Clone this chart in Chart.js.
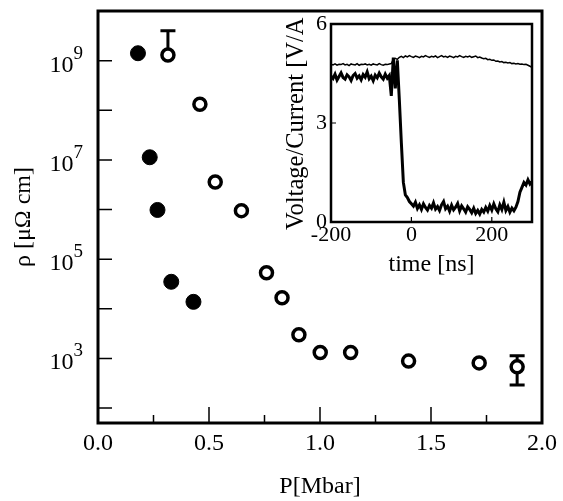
<!DOCTYPE html>
<html>
<head>
<meta charset="utf-8">
<script src="https://cdn.jsdelivr.net/npm/chart.js@4.4.0/dist/chart.umd.min.js"></script>
<style>
    html, body { margin: 0; padding: 0; background: #fff; }
    #wrap { position: relative; width: 563px; height: 501px; }
    #main { position: absolute; left: 0; top: 0; }
    #inset { position: absolute; left: 270px; top: 0; }
</style>
</head>
<body>
<div id="wrap">
    <canvas id="main" width="563" height="501"></canvas>
    <canvas id="inset" width="293" height="300"></canvas>
</div>
<script>
// Main plot: resistivity vs pressure
const solidP = [0.18, 0.233, 0.268, 0.33, 0.43];
const solidRho = [1.41e9, 1.13e7, 9.8e5, 3.5e4, 1.38e4];
const openP = [0.315, 0.459, 0.528, 0.646, 0.759, 0.829, 0.905, 1.001, 1.138, 1.399, 1.717, 1.888];
const openRho = [1.3e9, 1.32e8, 3.6e6, 9.5e5, 5.3e4, 1.67e4, 3.0e3, 1.32e3, 1.32e3, 883, 813, 676];
// error bars on the open points (index into openP/openRho)
const errIndex = [0, 11];
const errHigh = [4.0e9, 1130];
const errLow = [null, 290];

const xTicks = [0, 0.5, 1.0, 1.5, 2.0];
const xMinorTicks = [0.25, 0.75, 1.25, 1.75];
const yTickPowers = [2, 3, 4, 5, 6, 7, 8, 9];
const yLabelPowers = [3, 5, 7, 9];

// Inset: voltage / current traces
const insetTime = [
    -200, -195, -190, -185, -180, -175, -170, -165, -160, -155,
    -150, -145, -140, -135, -130, -125, -120, -115, -110, -105,
    -100, -95, -90, -85, -80, -75, -70, -65, -60, -55,
    -50, -45, -40, -35, -30, -25, -20, -15, -10, -5,
    0, 5, 10, 15, 20, 25, 30, 35, 40, 45,
    50, 55, 60, 65, 70, 75, 80, 85, 90, 95,
    100, 105, 110, 115, 120, 125, 130, 135, 140, 145,
    150, 155, 160, 165, 170, 175, 180, 185, 190, 195,
    200, 205, 210, 215, 220, 225, 230, 235, 240, 245,
    250, 255, 260, 265, 270, 275, 280, 285, 290, 295,
    300
];
const insetThick = [
    4.42, 4.35, 4.48, 4.30, 4.41, 4.52, 4.38, 4.33, 4.46, 4.40,
    4.29, 4.44, 4.50, 4.36, 4.43, 4.31, 4.47, 4.39, 4.55, 4.34,
    4.42, 4.28, 4.45, 4.37, 4.51, 4.40, 4.33, 4.48, 4.36, 4.44,
    3.82, 4.98, 4.05, 4.90, 3.70, 2.40, 1.20, 0.82, 0.74, 0.62,
    0.55, 0.48, 0.60, 0.41, 0.52, 0.38, 0.55, 0.44, 0.36, 0.50,
    0.42, 0.58, 0.39, 0.47, 0.35, 0.52, 0.62, 0.40, 0.48, 0.33,
    0.51, 0.37, 0.45, 0.56, 0.34, 0.49, 0.40, 0.30, 0.46, 0.38,
    0.28, 0.42, 0.26, 0.35, 0.24, 0.38, 0.30, 0.44, 0.33, 0.50,
    0.36, 0.55, 0.40, 0.31, 0.52, 0.38, 0.60, 0.35, 0.47, 0.30,
    0.42, 0.34, 0.45, 0.62, 0.90, 1.05, 1.20, 1.12, 1.28, 1.15,
    1.22
];
const insetThin = [
    4.78, 4.76, 4.79, 4.75, 4.78, 4.77, 4.80, 4.76, 4.78, 4.74,
    4.79, 4.77, 4.76, 4.80, 4.75, 4.78, 4.77, 4.79, 4.76, 4.78,
    4.75, 4.79, 4.77, 4.76, 4.80, 4.77, 4.75, 4.78, 4.77, 4.79,
    4.80, 4.92, 4.96, 4.93, 4.99, 5.02, 4.98, 5.03, 5.00, 5.04,
    5.01, 4.99, 5.03, 5.01, 4.98, 5.02, 5.00, 5.04, 5.01, 4.99,
    5.02, 5.00, 5.03, 4.98, 5.01, 5.04, 5.00, 5.02, 4.99, 5.03,
    5.01, 4.98, 5.02, 5.00, 5.04, 5.01, 4.99, 5.02, 5.00, 5.03,
    4.99, 5.01, 5.03, 4.98, 5.00, 4.97, 4.95, 4.96, 4.92, 4.93,
    4.90, 4.91, 4.87, 4.88, 4.85, 4.86, 4.83, 4.84, 4.82, 4.83,
    4.80, 4.81, 4.79, 4.80, 4.78, 4.79, 4.77, 4.78, 4.75, 4.72,
    4.68
];
const insetXTicks = [-200, 0, 200];
const insetYTicks = [0, 3, 6];

const FONT = 'Liberation Serif';

function toPoints(xs, ys){
    return xs.map((x, i) => ({ x: x, y: ys[i] }));
}

// frame, inward ticks, log labels and error bars for the main plot
const mainDecor = {
    id: 'mainDecor',
    beforeDatasetsDraw(chart){
        const ctx = chart.ctx;
        const xs = chart.scales.x, ys = chart.scales.y;
        ctx.save();
        ctx.strokeStyle = '#000';
        ctx.lineWidth = 3;
        errIndex.forEach((idx, k) => {
            const px = xs.getPixelForValue(openP[idx]);
            const py = ys.getPixelForValue(openRho[idx]);
            const top = ys.getPixelForValue(errHigh[k]);
            const bot = errLow[k] ? ys.getPixelForValue(errLow[k]) : py;
            ctx.beginPath();
            ctx.moveTo(px, top);
            ctx.lineTo(px, bot);
            ctx.moveTo(px - 7.5, top);
            ctx.lineTo(px + 7.5, top);
            if (errLow[k]){
                ctx.moveTo(px - 7.5, bot);
                ctx.lineTo(px + 7.5, bot);
            }
            ctx.stroke();
        });
        ctx.restore();
    },
    afterDraw(chart){
        const ctx = chart.ctx;
        const a = chart.chartArea;
        const xs = chart.scales.x, ys = chart.scales.y;
        ctx.save();
        ctx.strokeStyle = '#000';
        ctx.lineWidth = 1.5;
        ctx.beginPath();
        xTicks.forEach(v => {
            const px = xs.getPixelForValue(v);
            ctx.moveTo(px, a.bottom);
            ctx.lineTo(px, a.bottom - 16);
        });
        xMinorTicks.forEach(v => {
            const px = xs.getPixelForValue(v);
            ctx.moveTo(px, a.bottom);
            ctx.lineTo(px, a.bottom - 8);
        });
        yTickPowers.forEach(p => {
            const py = ys.getPixelForValue(Math.pow(10, p));
            ctx.moveTo(a.left, py);
            ctx.lineTo(a.left + 14, py);
        });
        ctx.stroke();

        ctx.lineWidth = 3;
        ctx.strokeRect(a.left, a.top, a.right - a.left, a.bottom - a.top);

        // 10^n labels
        ctx.fillStyle = '#000';
        ctx.textAlign = 'right';
        ctx.textBaseline = 'alphabetic';
        yLabelPowers.forEach(p => {
            const py = ys.getPixelForValue(Math.pow(10, p));
            const right = a.left - 15;
            ctx.font = '19px "' + FONT + '"';
            const ew = ctx.measureText(String(p)).width;
            ctx.fillText(String(p), right, py - 2);
            ctx.font = '24px "' + FONT + '"';
            ctx.fillText('10', right - ew, py + 11);
        });
        ctx.restore();
    }
};

new Chart(document.getElementById('main'), {
    type: 'scatter',
    data: {
        datasets: [
            {
                label: 'open',
                data: toPoints(openP, openRho),
                pointRadius: 6,
                pointBorderWidth: 3.5,
                pointBackgroundColor: '#fff',
                pointBorderColor: '#000'
            },
            {
                label: 'solid',
                data: toPoints(solidP, solidRho),
                pointRadius: 7.5,
                pointBorderWidth: 1,
                pointBackgroundColor: '#000',
                pointBorderColor: '#000'
            }
        ]
    },
    options: {
        responsive: false,
        devicePixelRatio: 1,
        animation: false,
        layout: { padding: { top: 11, right: 18, left: 0, bottom: 0 } },
        plugins: { legend: { display: false }, tooltip: { enabled: false } },
        scales: {
            x: {
                type: 'linear',
                min: 0,
                max: 2,
                afterBuildTicks: s => { s.ticks = xTicks.map(v => ({ value: v })); },
                afterFit: s => { s.height = 78; },
                grid: { display: false, drawTicks: false },
                border: { display: false },
                ticks: {
                    padding: 6,
                    color: '#000',
                    font: { family: FONT, size: 24 },
                    maxRotation: 0,
                    callback: v => Number(v).toFixed(1)
                },
                title: {
                    display: true,
                    text: 'P[Mbar]',
                    color: '#000',
                    font: { family: FONT, size: 24 },
                    padding: { top: 0, bottom: 0 }
                }
            },
            y: {
                type: 'logarithmic',
                min: 50,
                max: 1e10,
                afterFit: s => { s.width = 98; },
                grid: { display: false, drawTicks: false },
                border: { display: false },
                ticks: { display: false },
                title: {
                    display: true,
                    text: 'ρ [μΩ cm]',
                    color: '#000',
                    font: { family: FONT, size: 24 },
                    padding: { top: 9, bottom: 0 }
                }
            }
        }
    },
    plugins: [mainDecor]
});

// frame, ticks and clipped y title for the inset
const insetDecor = {
    id: 'insetDecor',
    afterDraw(chart){
        const ctx = chart.ctx;
        const a = chart.chartArea;
        const xs = chart.scales.x, ys = chart.scales.y;
        ctx.save();
        ctx.strokeStyle = '#000';
        ctx.lineWidth = 1.2;
        ctx.beginPath();
        insetXTicks.forEach(v => {
            const px = xs.getPixelForValue(v);
            ctx.moveTo(px, a.bottom);
            ctx.lineTo(px, a.bottom - 5);
        });
        insetYTicks.forEach(v => {
            const py = ys.getPixelForValue(v);
            ctx.moveTo(a.left, py);
            ctx.lineTo(a.left + 5, py);
        });
        ctx.stroke();
        ctx.lineWidth = 2.5;
        ctx.strokeRect(a.left, a.top, a.right - a.left, a.bottom - a.top);

        // the closing bracket of the label runs past the top of the main frame and is cut off
        const label = 'Voltage/Current [V/A]';
        ctx.font = '24.5px "' + FONT + '"';
        const shown = ctx.measureText('Voltage/Current [V/A').width;
        const startY = 230;
        ctx.beginPath();
        ctx.rect(0, startY - shown - 0.5, chart.width, chart.height);
        ctx.clip();
        ctx.translate(33, startY);
        ctx.rotate(-Math.PI / 2);
        ctx.fillStyle = '#000';
        ctx.textAlign = 'left';
        ctx.textBaseline = 'alphabetic';
        ctx.fillText(label, 0, 0);
        ctx.restore();
    }
};

new Chart(document.getElementById('inset'), {
    type: 'scatter',
    data: {
        datasets: [
            {
                label: 'thin',
                data: toPoints(insetTime, insetThin),
                showLine: true,
                borderColor: '#000',
                borderWidth: 1.5,
                pointRadius: 0,
                tension: 0
            },
            {
                label: 'thick',
                data: toPoints(insetTime, insetThick),
                showLine: true,
                borderColor: '#000',
                borderWidth: 3,
                pointRadius: 0,
                tension: 0
            }
        ]
    },
    options: {
        responsive: false,
        devicePixelRatio: 1,
        animation: false,
        layout: { padding: { top: 24, right: 31, left: 0, bottom: 20 } },
        plugins: { legend: { display: false }, tooltip: { enabled: false } },
        scales: {
            x: {
                type: 'linear',
                min: -200,
                max: 300,
                afterBuildTicks: s => { s.ticks = insetXTicks.map(v => ({ value: v })); },
                afterFit: s => { s.height = 58; },
                grid: { display: false, drawTicks: false },
                border: { display: false },
                ticks: {
                    padding: 0,
                    color: '#000',
                    font: { family: FONT, size: 22 },
                    maxRotation: 0
                },
                title: {
                    display: true,
                    text: 'time [ns]',
                    color: '#000',
                    font: { family: FONT, size: 24 },
                    padding: { top: 0, bottom: 1 }
                }
            },
            y: {
                type: 'linear',
                min: 0,
                max: 6,
                afterBuildTicks: s => { s.ticks = insetYTicks.map(v => ({ value: v })); },
                afterFit: s => { s.width = 61; },
                grid: { display: false, drawTicks: false },
                border: { display: false },
                ticks: {
                    padding: 4,
                    color: '#000',
                    font: { family: FONT, size: 22 }
                }
            }
        }
    },
    plugins: [insetDecor]
});
</script>
</body>
</html>
